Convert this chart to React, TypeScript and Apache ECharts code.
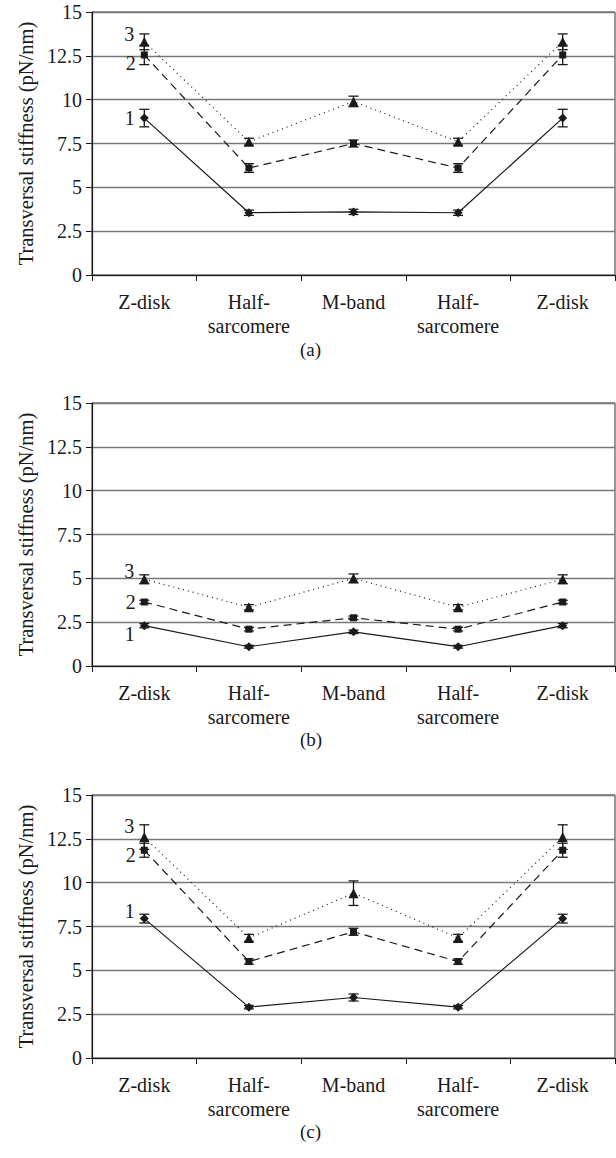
import React, { useEffect, useRef } from "react";
import * as echarts from "echarts";

const categories = ["Z-disk", "Half-\nsarcomere", "M-band", "Half-\nsarcomere", "Z-disk"];
const yTicks = { min: 0, max: 15, interval: 2.5 };
const panelCaptions = ["(a)", "(b)", "(c)"];
const curveNames = ["1", "2", "3"];

// Panel (a)
const a1 = [8.95, 3.55, 3.6, 3.55, 8.95];
const a1Err = [0.5, 0.15, 0.15, 0.15, 0.5];
const a2 = [12.55, 6.1, 7.5, 6.1, 12.55];
const a2Err = [0.55, 0.25, 0.2, 0.25, 0.55];
const a3 = [13.3, 7.6, 9.9, 7.6, 13.3];
const a3Err = [0.45, 0.2, 0.3, 0.2, 0.45];

// Panel (b)
const b1 = [2.3, 1.1, 1.95, 1.1, 2.3];
const b1Err = [0.12, 0.08, 0.1, 0.08, 0.12];
const b2 = [3.65, 2.1, 2.75, 2.1, 3.65];
const b2Err = [0.1, 0.1, 0.1, 0.1, 0.1];
const b3 = [4.95, 3.35, 5.0, 3.35, 4.95];
const b3Err = [0.25, 0.15, 0.25, 0.15, 0.25];

// Panel (c)
const c1 = [7.95, 2.9, 3.45, 2.9, 7.95];
const c1Err = [0.25, 0.1, 0.2, 0.1, 0.25];
const c2 = [11.85, 5.5, 7.2, 5.5, 11.85];
const c2Err = [0.4, 0.15, 0.2, 0.15, 0.4];
const c3 = [12.6, 6.85, 9.4, 6.85, 12.6];
const c3Err = [0.7, 0.2, 0.7, 0.2, 0.7];

const panels = [
  { values: [a1, a2, a3], errs: [a1Err, a2Err, a3Err], labelOffsets: [0, 8, -8] },
  { values: [b1, b2, b3], errs: [b1Err, b2Err, b3Err], labelOffsets: [8, 0, -8] },
  { values: [c1, c2, c3], errs: [c1Err, c2Err, c3Err], labelOffsets: [-8, 5, -11] },
];

const FONT = "Liberation Serif";
const INK = "#1a1a1a";
const gridTops = [12, 403, 795];
const gridHeight = 263;
const captionY = [351, 741, 1133];

const symbols = ["diamond", "rect", "triangle"];
const symbolSizes = [9, 7, 10];
const lineTypes: any[] = ["solid", [8, 5], [1, 4]];

export default function App() {
  const ref = useRef<HTMLDivElement>(null);
  useEffect(() => {
    document.body.style.margin = "0";
    if (!ref.current) return;
    const chart = echarts.init(ref.current, null, { renderer: "svg" });

    const grid: any[] = [];
    const xAxis: any[] = [];
    const yAxis: any[] = [];
    const series: any[] = [];
    const graphic: any[] = [];

    panels.forEach((p, pi) => {
      grid.push({
        left: 92,
        right: 1,
        top: gridTops[pi],
        height: gridHeight,
        show: true,
        borderColor: "#333",
        borderWidth: 1,
      });
      xAxis.push({
        type: "category",
        gridIndex: pi,
        data: categories,
        boundaryGap: true,
        axisLine: { lineStyle: { color: INK, width: 1.2 } },
        axisTick: { show: true, length: 6, lineStyle: { color: INK } },
        axisLabel: {
          color: INK,
          fontFamily: FONT,
          fontSize: 20,
          lineHeight: 24,
          margin: 15,
          interval: 0,
        },
      });
      yAxis.push({
        type: "value",
        gridIndex: pi,
        min: yTicks.min,
        max: yTicks.max,
        interval: yTicks.interval,
        name: "Transversal stiffness (pN/nm)",
        nameLocation: "middle",
        nameGap: 55,
        nameTextStyle: { color: INK, fontFamily: FONT, fontSize: 20.5 },
        axisLine: { show: true, lineStyle: { color: INK, width: 1.2 } },
        axisTick: { show: true, length: 6, lineStyle: { color: INK } },
        axisLabel: { color: INK, fontFamily: FONT, fontSize: 20, margin: 10 },
        splitLine: { show: true, lineStyle: { color: "#777", width: 1.3 } },
      });

      p.values.forEach((vals, si) => {
        const errs = p.errs[si];
        series.push({
          type: "custom",
          xAxisIndex: pi,
          yAxisIndex: pi,
          z: 3,
          data: vals.map((v, i) => [i, v - errs[i], v + errs[i]]),
          encode: { x: 0, y: [1, 2] },
          renderItem: (params: any, api: any) => {
            const x = api.value(0);
            const lo = api.coord([x, api.value(1)]);
            const hi = api.coord([x, api.value(2)]);
            const hw = 5;
            const style = { stroke: INK, lineWidth: 1.3 };
            return {
              type: "group",
              children: [
                { type: "line", shape: { x1: lo[0], y1: lo[1], x2: hi[0], y2: hi[1] }, style },
                { type: "line", shape: { x1: lo[0] - hw, y1: lo[1], x2: lo[0] + hw, y2: lo[1] }, style },
                { type: "line", shape: { x1: hi[0] - hw, y1: hi[1], x2: hi[0] + hw, y2: hi[1] }, style },
              ],
            };
          },
        });
        series.push({
          type: "line",
          xAxisIndex: pi,
          yAxisIndex: pi,
          z: 4,
          symbol: symbols[si],
          symbolSize: symbolSizes[si],
          itemStyle: { color: INK },
          lineStyle: { color: INK, width: 1.2, type: lineTypes[si] },
          data: vals.map((v, i) =>
            i === 0
              ? {
                  value: v,
                  label: {
                    show: true,
                    position: "left",
                    distance: 5,
                    offset: [0, p.labelOffsets[si]],
                    formatter: curveNames[si],
                    color: INK,
                    fontFamily: FONT,
                    fontSize: 20,
                  },
                }
              : v
          ),
        });
      });

      graphic.push({
        type: "text",
        left: 300,
        top: captionY[pi] - 11,
        style: { text: panelCaptions[pi], fill: INK, font: `19px "${FONT}"` },
      });
    });

    chart.setOption({
      animation: false,
      backgroundColor: "#fff",
      grid,
      xAxis,
      yAxis,
      series,
      graphic,
    });
    return () => chart.dispose();
  }, []);
  return <div ref={ref} style={{ width: 616, height: 1158 }} />;
}
